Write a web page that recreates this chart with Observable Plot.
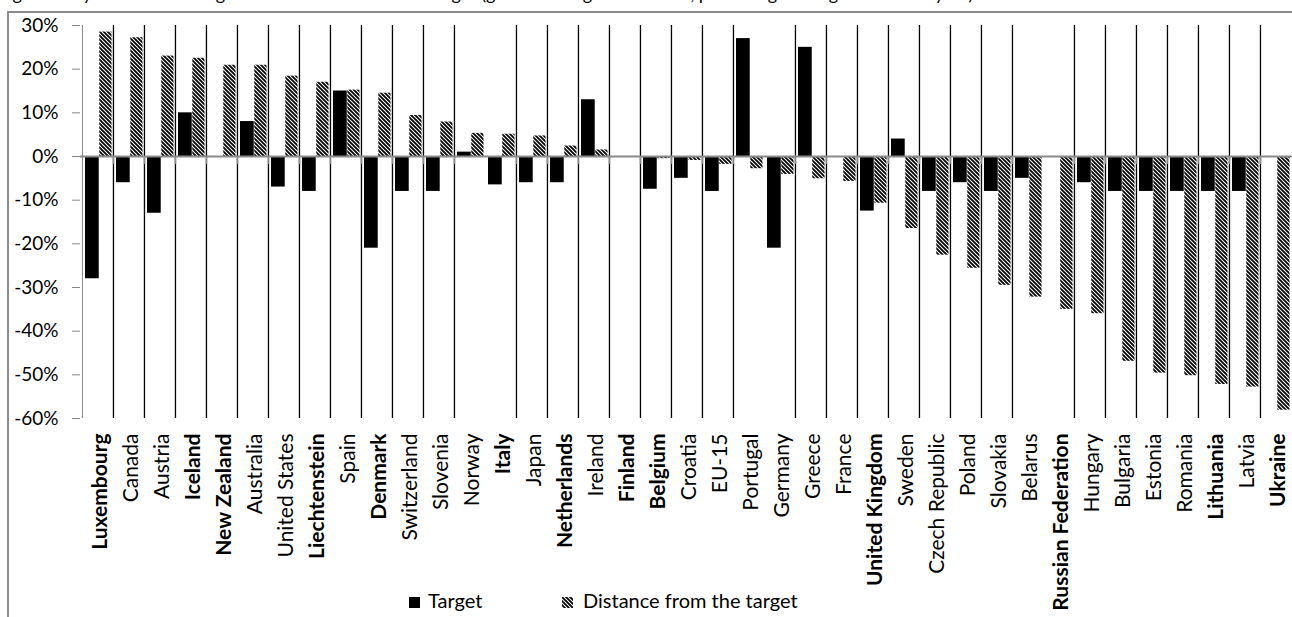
<!DOCTYPE html>
<html><head><meta charset="utf-8">
<script src="https://cdn.jsdelivr.net/npm/d3@7"></script>
<script src="https://cdn.jsdelivr.net/npm/@observablehq/plot@0.6"></script>
<style>
body{margin:0;background:#fff;overflow:hidden}
#wrap{position:relative;width:1292px;height:617px;overflow:hidden;font-family:Lato,"Open Sans",sans-serif;color:#000}
#title{position:absolute;left:-2px;top:-18px;font-size:18px;line-height:normal;white-space:nowrap}
#frame{position:absolute;left:7px;top:11px;width:1300px;height:620px;border-left:2px solid #8c8c8c;border-top:2px solid #8c8c8c;box-sizing:border-box}
#chart{position:absolute;left:0;top:0}
.leg{position:absolute;font-size:20px;line-height:20px;white-space:nowrap}
</style></head><body>
<div id="wrap">
  <div id="title">Figure 2: Kyoto Protocol targets and distance from the target (greenhouse gas emissions, percentage change from base year)</div>
  <div id="frame"></div>
  <div id="chart"></div>
  <div class="leg" style="left:409px;top:597px;width:11px;height:11px;background:#000"></div>
  <div class="leg" style="left:428px;top:590px">Target</div>
  <svg class="leg" style="left:562px;top:597px" width="11" height="11">
    <defs><pattern id="hatchL" patternUnits="userSpaceOnUse" width="4" height="4">
      <rect width="4" height="4" fill="#fff"/>
      <path d="M-1,-1L5,5M3,-1L5,1M-1,3L1,5" stroke="#000" stroke-width="1.8"/>
    </pattern></defs>
    <rect width="11" height="11" fill="url(#hatchL)"/>
  </svg>
  <div class="leg" style="left:583px;top:590px">Distance from the target</div>
</div>
<script>
// ---- data ----
const countries = ["Luxembourg","Canada","Austria","Iceland","New Zealand","Australia","United States","Liechtenstein","Spain","Denmark","Switzerland","Slovenia","Norway","Italy","Japan","Netherlands","Ireland","Finland","Belgium","Croatia","EU-15","Portugal","Germany","Greece","France","United Kingdom","Sweden","Czech Republic","Poland","Slovakia","Belarus","Russian Federation","Hungary","Bulgaria","Estonia","Romania","Lithuania","Latvia","Ukraine"];
const target = [-28,-6,-13,10,0,8,-7,-8,15,-21,-8,-8,1,-6.5,-6,-6,13,0,-7.5,-5,-8,27,-21,25,0,-12.5,4,-8,-6,-8,-5,0,-6,-8,-8,-8,-8,-8,0];
const distance = [28.5,27.2,23.0,22.5,20.9,20.9,18.4,17.0,15.2,14.5,9.4,7.9,5.3,5.1,4.7,2.4,1.5,0,-0.5,-0.9,-1.8,-2.8,-4.1,-5.1,-5.7,-10.7,-16.5,-22.6,-25.6,-29.5,-32.2,-35.0,-36.0,-46.9,-49.6,-50.2,-52.2,-52.8,-58.1];
const yTicks = [30,20,10,0,-10,-20,-30,-40,-50,-60];
const seriesNames = ["Target","Distance from the target"];
const noSeparatorBefore = ["Italy","Germany","Russian Federation"];
const boldLabels = ["Luxembourg","Iceland","New Zealand","Liechtenstein","Denmark","Italy","Netherlands","Finland","Belgium","United Kingdom","Russian Federation","Lithuania","Ukraine"];

// ---- chart ----
const W = 1292, H = 617, mL = 80, mR = 0, mT = 25, mB = 199;
const step = (W - mL - mR) / countries.length;
const rows = countries.map((c, i) => ({country: c, target: target[i], distance: distance[i]}));
const seps = countries.slice(1).filter(c => !noSeparatorBefore.includes(c));

const plot = Plot.plot({
  width: W, height: H,
  marginLeft: mL, marginRight: mR, marginTop: mT, marginBottom: mB,
  style: {fontFamily: "Lato, 'Open Sans', sans-serif", background: "transparent", color: "#000"},
  x: {domain: countries, padding: 0, axis: null},
  y: {domain: [-60, 30], axis: null},
  marks: [
    Plot.ruleX(seps, {x: d => d, dx: -step / 2, y1: 30, y2: -60, stroke: "#000", strokeWidth: 1.3}),
    Plot.barY(rows, {x: "country", y: "target", fill: "#000", insetLeft: 3, insetRight: step - 16.8}),
    Plot.barY(rows, {x: "country", y: "distance", fill: "url(#hatch)", insetLeft: 17.3, insetRight: 1.5}),
    Plot.ruleY([0], {stroke: "#8a8a8a", strokeWidth: 2}),
    Plot.ruleX(seps, {x: d => d, dx: -step / 2, y1: 0, y2: -1.8, stroke: "#8a8a8a", strokeWidth: 1.5}),
    Plot.ruleX([countries[0]], {x: d => d, dx: -step / 2, y1: 30, y2: -60, stroke: "#868686", strokeWidth: 1}),
    Plot.axisY({anchor: "left", ticks: yTicks, tickFormat: d => d + "%", tickSize: 8, tickPadding: 14, fontSize: 19, stroke: "#868686", fill: "#000", label: null}),
    Plot.axisX({anchor: "bottom", tickSize: 0, tickPadding: 15, tickRotate: -90, fontSize: 21, fill: "#000", dx: 2, label: null})
  ]
});

const svg = d3.select(plot);
const defs = svg.insert("defs", ":first-child");
const pat = defs.append("pattern").attr("id", "hatch").attr("patternUnits", "userSpaceOnUse").attr("width", 4).attr("height", 4);
pat.append("rect").attr("width", 4).attr("height", 4).attr("fill", "#fff");
pat.append("path").attr("d", "M-1,-1L5,5M3,-1L5,1M-1,3L1,5").attr("stroke", "#000").attr("stroke-width", 1.8);

svg.selectAll('g[aria-label="x-axis tick label"] text').each(function () {
  if (boldLabels.includes(this.textContent)) this.setAttribute("font-weight", "bold");
});

document.getElementById("chart").appendChild(plot);
</script>
</body></html>
